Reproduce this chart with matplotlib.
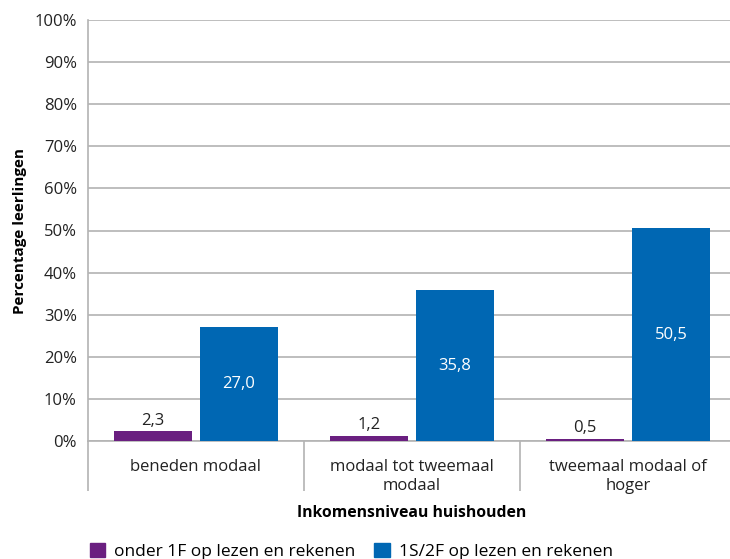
import numpy as np
import matplotlib.pyplot as plt
from matplotlib.patches import Patch

categories = ["beneden modaal", "modaal tot tweemaal\nmodaal", "tweemaal modaal of\nhoger"]
onder_1f = [2.3, 1.2, 0.5]
niveau_1s2f = [27.0, 35.8, 50.5]
series_names = ["onder 1F op lezen en rekenen", "1S/2F op lezen en rekenen"]
yticks = list(range(0, 101, 10))

purple = "#6a1f80"
blue = "#0067b3"
grid_col = "#b3b3b3"
txt = "#222222"

plt.rcParams['font.family'] = ['Open Sans', 'DejaVu Sans']

fig = plt.figure(figsize=(7.30, 5.59), dpi=100)
ax = fig.add_axes([88 / 730, 1 - 441 / 559, 648 / 730, 421 / 559])

x = np.arange(len(categories))
w = 0.361
off = 0.199
b1 = ax.bar(x - off, onder_1f, w, color=purple, zorder=3)
b2 = ax.bar(x + off, niveau_1s2f, w, color=blue, zorder=3)

for rect, v in zip(b1, onder_1f):
    ax.text(rect.get_x() + rect.get_width() / 2, v + 0.6, f"{v:.1f}".replace(".", ","),
            ha="center", va="bottom", fontsize=12, color=txt)
for rect, v in zip(b2, niveau_1s2f):
    ax.text(rect.get_x() + rect.get_width() / 2, v / 2, f"{v:.1f}".replace(".", ","),
            ha="center", va="center", fontsize=12, color="white")

ax.set_ylim(0, 100)
ax.set_xlim(-0.5, 2.5)
ax.set_yticks(yticks)
ax.set_yticklabels([f"{t}%" for t in yticks], fontsize=12, color=txt)
ax.yaxis.grid(True, color=grid_col, linewidth=1.2, zorder=0)
ax.tick_params(axis="y", length=0, pad=8)

ax.set_xticks(x)
ax.set_xticklabels(categories, fontsize=12, color=txt, linespacing=1.25)
ax.tick_params(axis="x", which="major", length=0, pad=13)
ax.set_xticks([-0.5, 0.5, 1.5, 2.5], minor=True)
ax.tick_params(axis="x", which="minor", length=36, width=1.2, color=grid_col)

for s in ["top", "right"]:
    ax.spines[s].set_visible(False)
ax.spines["left"].set_color(grid_col)
ax.spines["left"].set_linewidth(1.2)
ax.spines["bottom"].set_color(grid_col)
ax.spines["bottom"].set_linewidth(1.2)

ax.set_ylabel("Percentage leerlingen", fontsize=11, fontweight="bold", labelpad=5)
ax.set_xlabel("Inkomensniveau huishouden", fontsize=11.3, fontweight="bold", labelpad=7)

handles = [Patch(color=purple), Patch(color=blue)]
fig.legend(handles, series_names, loc="lower left", bbox_to_anchor=(74 / 730, -0.03),
           ncol=2, frameon=False, fontsize=12.5, handlelength=0.9, handleheight=0.9,
           columnspacing=1.1, handletextpad=0.5)

fig.savefig("out.png", dpi=100)
